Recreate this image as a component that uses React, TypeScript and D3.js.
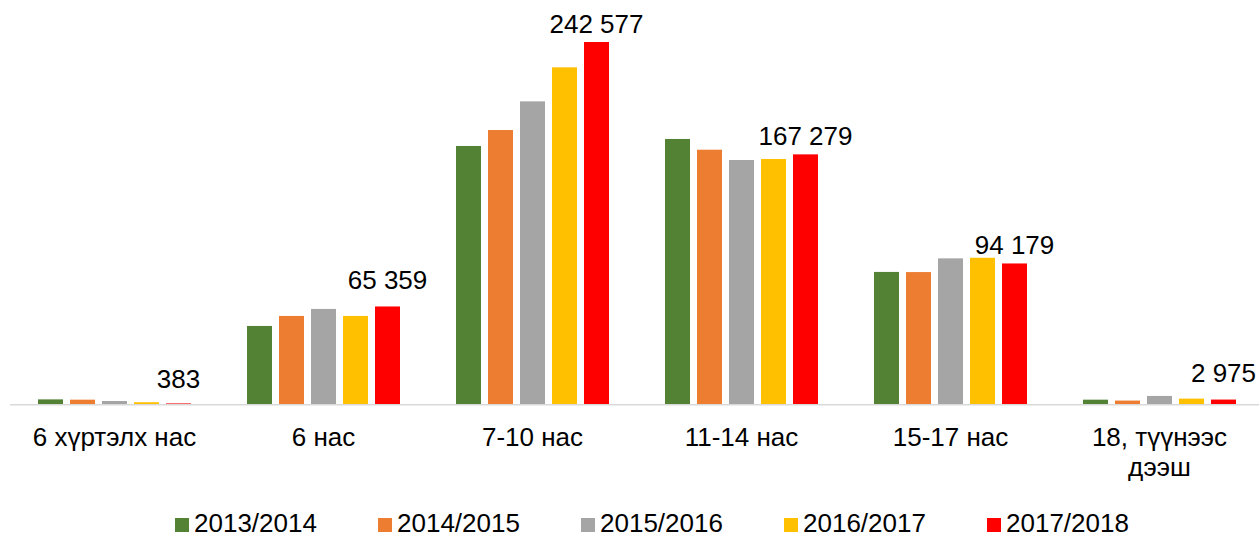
import React, { useEffect } from "react";
import * as d3 from "d3";

const categories = ["6 хүртэлх нас", "6 нас", "7-10 нас", "11-14 нас", "15-17 нас", "18, түүнээс дээш"];
const seriesNames = ["2013/2014", "2014/2015", "2015/2016", "2016/2017", "2017/2018"];
const s2013 = [3100, 52300, 172900, 177600, 88500, 2900];
const s2014 = [2900, 59000, 183600, 170400, 88400, 2300];
const s2015 = [2000, 63700, 202800, 163500, 97600, 5400];
const s2016 = [1200, 59000, 225600, 164200, 98000, 3600];
const s2017 = [383, 65359, 242577, 167279, 94179, 2975];
const seriesValues = [s2013, s2014, s2015, s2016, s2017];
const colors = ["#548235", "#ED7D31", "#A5A5A5", "#FFC000", "#FF0000"];

// extra lift for the hand-placed value labels
const labelLift = [6, 8, 0, 0, 0, 9];

const W = 1259;
const H = 538;
const baseY = 404;
const font = "'Liberation Sans', Arial, sans-serif";

export default function App() {
  useEffect(() => {
    document.body.style.margin = "0";
  }, []);

  const x0 = d3.scaleBand<string>().domain(categories).range([10, 1264]);
  const x1 = d3.scaleBand<string>().domain(seriesNames).range([-76.5, 76.5]).paddingInner(7 / 32);
  const y = d3.scaleLinear().domain([0, 242577]).range([baseY, 42]);
  const fmt = (v: number) => d3.format(",")(v).replace(/,/g, " ");
  const legendX = d3.scalePoint<string>().domain(seriesNames).range([175, 987]);

  return (
    <svg width={W} height={H} style={{ display: "block", fontFamily: font }}>
      <rect width={W} height={H} fill="#fff" />
      {seriesNames.map((s, si) =>
        categories.map((c, ci) => {
          const cx = (x0(c) as number) + x0.bandwidth() / 2;
          const v = seriesValues[si][ci];
          return (
            <rect key={s + c} x={cx + (x1(s) as number)} y={y(v)} width={x1.bandwidth()}
              height={baseY - y(v)} fill={colors[si]} />
          );
        })
      )}
      <line x1={10} x2={W} y1={baseY + 0.75} y2={baseY + 0.75} stroke="#d9d9d9" strokeWidth={1.5} />
      {categories.map((c, ci) => {
        const cx = (x0(c) as number) + x0.bandwidth() / 2;
        const last = seriesNames[seriesNames.length - 1];
        const v = s2017[ci];
        const lx = cx + (x1(last) as number) + x1.bandwidth() / 2;
        return (
          <text key={"v" + c} x={lx} y={y(v) - 9 - labelLift[ci]} textAnchor="middle"
            fontSize={26} fill="#000">{fmt(v)}</text>
        );
      })}
      {categories.map((c) => {
        const cx = (x0(c) as number) + x0.bandwidth() / 2;
        const parts = c === "18, түүнээс дээш" ? ["18, түүнээс", "дээш"] : [c];
        return (
          <text key={"c" + c} x={cx} y={446} textAnchor="middle" fontSize={26} fill="#000">
            {parts.map((p, i) => (
              <tspan key={i} x={cx} dy={i === 0 ? 0 : 30}>{p}</tspan>
            ))}
          </text>
        );
      })}
      {seriesNames.map((s, si) => {
        const lx = legendX(s) as number;
        return (
          <g key={"l" + s}>
            <rect x={lx} y={518} width={14} height={14} fill={colors[si]} />
            <text x={lx + 19} y={532} fontSize={26} fill="#000">{s}</text>
          </g>
        );
      })}
    </svg>
  );
}
